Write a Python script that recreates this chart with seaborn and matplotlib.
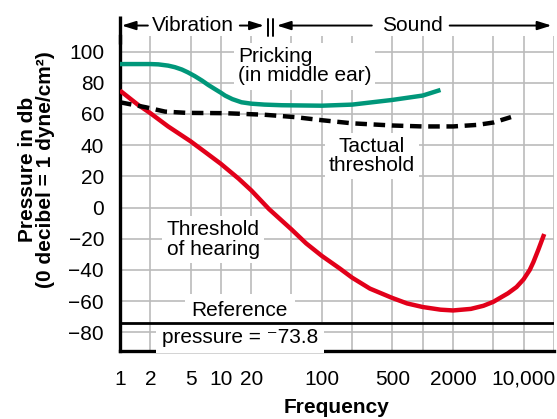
import matplotlib

matplotlib.use("Agg")
import matplotlib.pyplot as plt
import seaborn as sns
from matplotlib.ticker import FixedLocator, FixedFormatter, NullFormatter

# values
HEARING_FREQ = [1, 1.5, 2, 3, 5, 7, 10, 15, 20, 30, 50, 70, 100, 150, 200, 300,
                500, 700, 1000, 1500, 2000, 3000, 4000, 5000, 7000, 8500, 10000,
                11500, 12500, 14000, 16000]
HEARING_DB = [75, 66, 60.5, 52, 42.5, 35.5, 28, 18.5, 11, -1, -14, -23, -31, -39, -45, -52,
              -58, -61.5, -63.8, -65.5, -66, -65, -63, -60.5, -55, -51, -46,
              -40, -35, -27, -17]

PRICKING_FREQ = [1, 2, 2.4, 3, 3.5, 4.1, 4.7, 5.5, 6.5, 7.5, 8.7, 10, 11, 13, 16, 20,
                 27, 40, 54, 100, 200, 500, 1000, 1500]
PRICKING_DB = [92, 92, 91.8, 91, 90, 88.5, 86.7, 84.3, 81.4, 78.6, 76, 73.6, 71.8, 69.5,
               67.5, 66.6, 66, 65.6, 65.5, 65.3, 66, 69, 71.8, 75.4]

TACTUAL_FREQ = [1, 1.8, 2.8, 4.6, 11, 27, 54, 100, 200, 500, 1000, 2000, 3500, 5000, 7500]
TACTUAL_DB = [67.5, 64.3, 61.5, 60.7, 60.5, 59.5, 58, 56, 54, 52.6, 52, 52, 53, 54.5, 58]

REFERENCE_DB = -73.8

X_TICKS = [1, 2, 5, 10, 20, 50, 100, 200, 500, 2000, 10000]
X_TICK_LABELS = ["1", "2", "5", "10", "20", "", "100", "", "500", "2000", "10,000"]
X_GRID_EXTRA = [1000, 5000, 20000]
Y_TICKS = [-80, -60, -40, -20, 0, 20, 40, 60, 80, 100]
Y_TICK_LABELS = ["\u221280", "\u221260", "\u221240", "\u221220", "0", "20", "40", "60", "80", "100"]

RED = "#E2001A"
GREEN = "#00977A"
GRID = "#BBBBBB"
FS = 15


def main() -> None:
    sns.set_theme(style="white")
    plt.rcParams["font.family"] = ["Liberation Sans", "DejaVu Sans"]
    plt.rcParams["text.color"] = "black"

    fig = plt.figure(figsize=(5.57, 4.19), dpi=100)
    ax = fig.add_axes([0.2154, 0.1623, 0.7792, 0.7518])

    sns.lineplot(x=HEARING_FREQ, y=HEARING_DB, ax=ax, color=RED, lw=3.2,
                 solid_capstyle="butt", solid_joinstyle="round", zorder=4)
    sns.lineplot(x=PRICKING_FREQ, y=PRICKING_DB, ax=ax, color=GREEN, lw=3.2,
                 solid_capstyle="butt", solid_joinstyle="round", zorder=4)
    sns.lineplot(x=TACTUAL_FREQ, y=TACTUAL_DB, ax=ax, color="black", lw=3.2,
                 linestyle=(0, (2.6, 1.5)), zorder=4)
    ax.axhline(REFERENCE_DB, color="black", lw=2.0, zorder=4)

    ax.set_xscale("log")
    ax.set_xlim(1, 20000)
    ax.set_ylim(-92, 110)

    ax.xaxis.set_major_locator(FixedLocator(X_TICKS))
    ax.xaxis.set_major_formatter(FixedFormatter(X_TICK_LABELS))
    ax.xaxis.set_minor_locator(FixedLocator(X_GRID_EXTRA))
    ax.xaxis.set_minor_formatter(NullFormatter())
    ax.set_yticks(Y_TICKS)
    ax.set_yticklabels(Y_TICK_LABELS)

    ax.grid(True, which="major", color=GRID, lw=1.2)
    ax.xaxis.grid(True, which="minor", color=GRID, lw=1.2)
    ax.set_axisbelow(True)

    ax.tick_params(axis="both", which="major", direction="out", length=8.5, width=2.2,
                   color="black", labelsize=FS, labelcolor="black")
    ax.tick_params(axis="x", which="major", pad=5)
    ax.tick_params(axis="y", which="major", pad=3)
    ax.tick_params(axis="x", which="minor", length=0)

    for side in ["top", "right"]:
        ax.spines[side].set_visible(False)
    for side in ["left", "bottom"]:
        ax.spines[side].set_color("black")
        ax.spines[side].set_linewidth(2.4)
    # left axis runs up past the grid
    ax.plot([1, 1], [105, 122.5], color="black", lw=2.4, clip_on=False,
            solid_capstyle="butt", zorder=5)

    ax.set_xlabel("Frequency", fontsize=FS, fontweight="bold", color="black")
    ax.xaxis.set_label_coords(0.5, -0.15)
    ax.set_ylabel("Pressure in db\n(0 decibel = 1 dyne/cm\u00b2)", fontsize=FS,
                  fontweight="bold", color="black", linespacing=0.95)
    ax.yaxis.set_label_coords(-0.15, 0.575)

    box = dict(facecolor="white", edgecolor="none", pad=3)
    ax.text(14.7, 90.7, "Pricking\n(in middle ear)", fontsize=FS, ha="left", va="center",
            linespacing=1.05, bbox=box, zorder=3)
    ax.text(313, 33, "Tactual\nthreshold", fontsize=FS, ha="center", va="center",
            linespacing=1.0, bbox=box, zorder=3)
    ax.text(2.9, -20.5, "Threshold\nof hearing", fontsize=FS, ha="left", va="center",
            linespacing=1.05, bbox=box, zorder=3)
    ax.text(15.4, -66, "Reference", fontsize=FS, ha="center", va="center",
            bbox=dict(facecolor="white", edgecolor="none", pad=5), zorder=3)
    ax.text(15.4, -83.3, "pressure = \u207b73.8", fontsize=FS, ha="center", va="center",
            bbox=dict(facecolor="white", edgecolor="none", pad=4), zorder=3)

    # Vibration / Sound range marks above the plot
    arrow = dict(arrowstyle="-|>,head_length=0.7,head_width=0.22", color="black",
                 lw=1.4, shrinkA=0, shrinkB=0)
    y_band = 116.7
    ax.annotate("", xy=(1.04, y_band), xytext=(1.89, y_band), arrowprops=arrow,
                annotation_clip=False)
    ax.text(5.34, y_band, "Vibration", fontsize=FS, ha="center", va="center")
    ax.annotate("", xy=(26.7, y_band), xytext=(15.4, y_band), arrowprops=arrow,
                annotation_clip=False)
    for bar_x in [29.2, 32.7]:
        ax.plot([bar_x, bar_x], [110, 121], color="black", lw=1.4, clip_on=False)
    ax.annotate("", xy=(35.8, y_band), xytext=(313, y_band), arrowprops=arrow,
                annotation_clip=False)
    ax.text(787, y_band, "Sound", fontsize=FS, ha="center", va="center")
    ax.annotate("", xy=(18900, y_band), xytext=(1850, y_band), arrowprops=arrow,
                annotation_clip=False)

    fig.savefig("out.png", dpi=100, facecolor="white")
    plt.close(fig)


if __name__ == "__main__":
    main()
